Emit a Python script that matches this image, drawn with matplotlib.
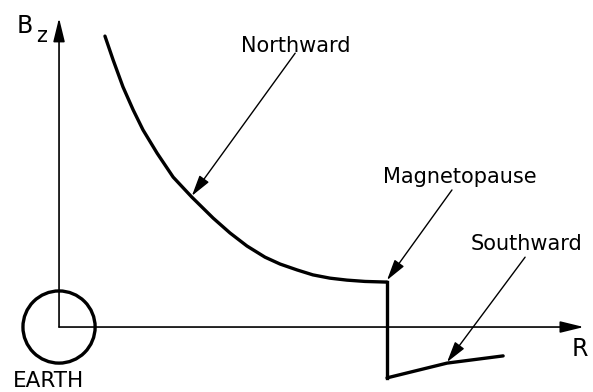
import matplotlib
matplotlib.use("Agg")
import matplotlib.pyplot as plt
from matplotlib.patches import Circle

# Schematic data (R and Bz in arbitrary units, Earth at origin)
north_R = [1.40, 1.65, 1.95, 2.26, 2.56, 2.99, 3.48, 4.05, 4.70, 5.21,
           5.73, 6.28, 6.74, 7.26, 7.74, 8.26, 8.78, 9.33, 10.0]
north_Bz = [8.87, 8.14, 7.32, 6.62, 6.01, 5.30, 4.57, 3.96, 3.32, 2.87,
            2.47, 2.13, 1.92, 1.74, 1.59, 1.49, 1.43, 1.39, 1.37]
jump_R = [10.0, 10.0]
jump_Bz = [1.37, -1.55]
south_R = [10.0, 11.83, 13.54]
south_Bz = [-1.55, -1.10, -0.88]
earth_radius = 1.10
labels = {"north": "Northward", "mp": "Magnetopause", "south": "Southward",
          "earth": "EARTH", "xlab": "R", "ylab": "B", "ysub": "z"}

fig = plt.figure(figsize=(5.93, 3.92), dpi=100)
ax = fig.add_axes([0, 0, 1, 1])
ax.set_xlim(-1.80, 16.28)
ax.set_ylim(-1.98, 9.97)
ax.set_aspect('equal')
ax.axis('off')

fam = ['DejaVu Sans']
axarrow = dict(arrowstyle='-|>,head_length=0.9,head_width=0.22', color='black',
               lw=1.2, mutation_scale=16, shrinkA=0, shrinkB=0)
ax.annotate('', xy=(16.0, 0), xytext=(0, 0), arrowprops=axarrow)
ax.annotate('', xy=(0, 9.42), xytext=(0, 0), arrowprops=axarrow)

ax.add_patch(Circle((0, 0), earth_radius, fill=False, lw=2.4, ec='black'))

ax.plot(north_R, north_Bz, color='black', lw=2.4, solid_capstyle='round',
        solid_joinstyle='round')
ax.plot(jump_R, jump_Bz, color='black', lw=2.4)
ax.plot(south_R, south_Bz, color='black', lw=2.4, solid_capstyle='round',
        solid_joinstyle='round')

ap = dict(arrowstyle='-|>,head_length=0.8,head_width=0.22', color='black',
          lw=1.0, mutation_scale=16, shrinkA=0, shrinkB=0)
ax.annotate('', xy=(4.05, 4.00), xytext=(7.20, 8.35), arrowprops=ap)
ax.annotate('', xy=(10.0, 1.43), xytext=(11.98, 4.18), arrowprops=ap)
ax.annotate('', xy=(11.83, -1.07), xytext=(14.21, 2.13), arrowprops=ap)

ax.text(7.23, 8.40, labels["north"], fontsize=15, ha='center', va='baseline', family=fam)
ax.text(12.21, 4.39, labels["mp"], fontsize=15, ha='center', va='baseline', family=fam)
ax.text(14.24, 2.35, labels["south"], fontsize=15, ha='center', va='baseline', family=fam)
ax.text(-0.32, -1.83, labels["earth"], fontsize=15.5, ha='center', va='baseline', family=fam)
ax.text(15.88, -0.88, labels["xlab"], fontsize=17, ha='center', va='baseline', family=fam)
ax.text(-1.05, 8.97, labels["ylab"], fontsize=17, ha='center', va='baseline', family=fam)
ax.text(-0.52, 8.69, labels["ysub"], fontsize=15, ha='center', va='baseline', family=fam)

fig.savefig('out.png', dpi=100)
